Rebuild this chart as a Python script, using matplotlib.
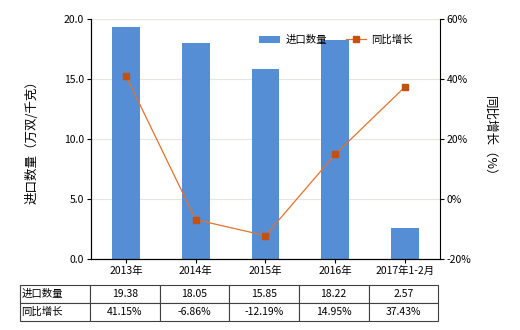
import matplotlib
matplotlib.use("Agg")
import matplotlib.pyplot as plt

plt.rcParams["font.family"] = ["Noto Sans CJK SC", "DejaVu Sans"]
plt.rcParams["axes.unicode_minus"] = False

categories = ["2013年", "2014年", "2015年", "2016年", "2017年1-2月"]
qty = [19.38, 18.05, 15.85, 18.22, 2.57]
growth = [41.15, -6.86, -12.19, 14.95, 37.43]
qty_text = ["19.38", "18.05", "15.85", "18.22", "2.57"]
growth_text = ["41.15%", "-6.86%", "-12.19%", "14.95%", "37.43%"]

BAR = "#558ed5"
LINE = "#e4722a"
MARK = "#c5500f"
FS = 7.5

fig = plt.figure(figsize=(5.2, 3.3), dpi=100)
ax = fig.add_axes([0.175, 0.215, 0.671, 0.727])
ax2 = ax.twinx()

x = list(range(len(categories)))
ax.bar(x, qty, width=0.4, color=BAR, label="进口数量", zorder=2)
ax.set_ylim(0, 20)
ax.set_yticks([0, 5, 10, 15, 20])
ax.set_yticklabels(["0.0", "5.0", "10.0", "15.0", "20.0"], fontsize=FS)
ax.set_xlim(-0.5, 4.5)
ax.set_xticks(x)
ax.set_xticklabels(categories, fontsize=FS)
ax.grid(axis="y", color="#e6e6e0", lw=0.8, zorder=0)
ax.set_axisbelow(True)
ax.set_ylabel("进口数量（万双/千克）", fontsize=9, labelpad=18)

ax2.plot(x, growth, color=LINE, lw=0.9, marker="s", ms=4.5,
         markerfacecolor=MARK, markeredgecolor=MARK, label="同比增长", zorder=3)
ax2.set_ylim(-20, 60)
ax2.set_yticks([-20, 0, 20, 40, 60])
ax2.set_yticklabels(["-20%", "0%", "20%", "40%", "60%"], fontsize=FS)
ax2.set_ylabel("同比增长（%）", fontsize=9, rotation=270, labelpad=18)

for a in (ax, ax2):
    a.spines["top"].set_visible(False)
    a.tick_params(length=3, width=0.8, pad=2)
ax.spines["right"].set_visible(False)

h1, l1 = ax.get_legend_handles_labels()
h2, l2 = ax2.get_legend_handles_labels()
ax2.legend(h1 + h2, l1 + l2, loc="upper right", bbox_to_anchor=(0.95, 0.975),
           ncol=2, frameon=False, fontsize=FS, handlelength=2.0,
           columnspacing=1.8, handletextpad=0.5)

cells = [["进口数量"] + qty_text, ["同比增长"] + growth_text]
tab = ax.table(cellText=cells, cellLoc="center",
               bbox=[-0.203, -0.258, 1.198, 0.15])
tab.auto_set_font_size(False)
tab.set_fontsize(FS)
for (r, c), cell in tab.get_celld().items():
    cell.set_edgecolor("#404040")
    cell.set_linewidth(0.8)
    if c == 0:
        cell.get_text().set_ha("left")
        cell.PAD = 0.02

fig.savefig("out.png", dpi=100)
